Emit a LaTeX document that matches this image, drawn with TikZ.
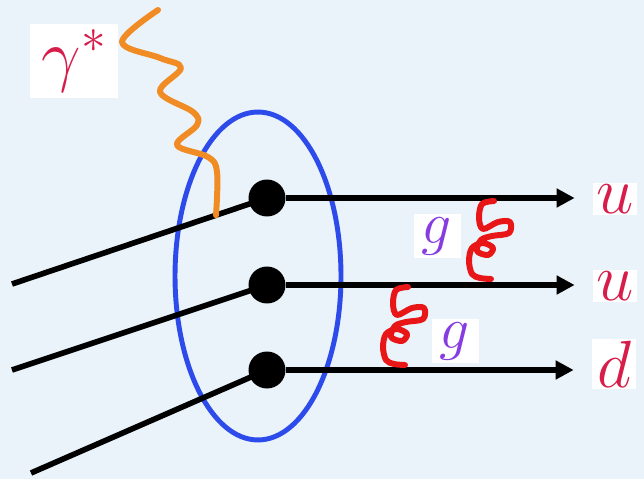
\RequirePackage{fix-cm}
\documentclass[tikz,border=0pt]{standalone}
\usepackage{xcolor}
\usepackage{amsmath}
\usepackage{tikz}
\usetikzlibrary{shapes.geometric, arrows.meta, positioning, calc}
\definecolor{mybg}{RGB}{233,243,249}
\definecolor{myblue}{RGB}{45,75,235}
\definecolor{myorange}{RGB}{240,140,35}
\definecolor{myred}{RGB}{232,22,22}
\definecolor{mycrimson}{RGB}{215,30,75}
\definecolor{mypurple}{RGB}{135,60,225}
\tikzset{
  quark/.style={line width=3.2pt, color=black},
  outquark/.style={line width=3.2pt, color=black,
    -{Triangle[length=0.36cm, width=0.36cm]}, shorten >=0.36cm},
  dot/.style={circle, fill=black, inner sep=0pt, minimum size=0.74cm},
  photon/.style={line width=3.4pt, color=myorange, line cap=round, line join=round},
  gluonline/.style={line width=3.4pt, color=myred, line cap=round, line join=round},
  % hand-drawn curly gluon, hanging down from its start point
  gluon/.pic={
    \draw[gluonline] plot[smooth, tension=0.55] coordinates {(0,0) (-12,3) (-15,17)
      (-11,28) (4,21) (16,21) (15,32) (-2,35) (-13,39) (-17,50) (-6,54) (-1,47)
      (-11,42) (-22,47) (-25,60) (-22,73) (-14,77) (-3,78)};
  },
  flavour/.style={fill=white, text=mycrimson, inner sep=1pt,
    minimum width=0.88cm, font=\fontsize{38}{40}\selectfont},
  glabel/.style={fill=white, text=mypurple, inner sep=1pt,
    minimum width=0.94cm, minimum height=0.9cm, font=\fontsize{34}{36}\selectfont}
}

\begin{document}
\begin{tikzpicture}[x=0.02cm, y=-0.02cm]
  % Paper background
  \fill[mybg] (0,0) rectangle (644,479);
  \useasboundingbox (0,0) rectangle (644,479);

  % Proton
  \node[ellipse, draw=myblue, line width=2.8pt, minimum width=3.32cm,
    minimum height=6.56cm] (proton) at (258,276) {};

  % Quarks coming in and going out
  \coordinate (in1) at (12,284);
  \coordinate (in2) at (12,370);
  \coordinate (in3) at (31,473);
  \node[flavour] (u1) at (615,199) {$u$};
  \node[flavour] (u2) at (615,286) {$u$};
  \node[flavour] (d)  at (614,364) {$d$};
  \foreach \i/\y/\lbl in {1/198/u1, 2/285/u2, 3/370/d} {
    \draw[quark] (in\i) -- (267,\y);
    \node[dot] (q\i) at (267,\y) {};
    \draw[outquark] (q\i) -- (q\i -| \lbl.west);
  }

  % Virtual photon
  \coordinate (vtx) at ($(in1)!0.8!(q1)$);
  \node[fill=white, text=mycrimson, minimum width=1.76cm, minimum height=1.38cm,
    font=\fontsize{40}{42}\selectfont] (gam) at (74,61) {$\gamma^*$};
  \draw[photon] plot[smooth, tension=0.6] coordinates {(158,10) (122,42) (160,58)
    (181,68) (160,92) (193,112) (197,125) (177,145) (208,157) (217,172) (vtx)};

  % Gluon exchange
  \coordinate (ga1) at (494,201);
  \coordinate (ga2) at (408,287);
  \pic at (ga1) {gluon};
  \pic at (ga2) {gluon};
  \node[glabel] (g1) at (437,236) {$g$};
  \node[glabel] (g2) at (455,341) {$g$};
\end{tikzpicture}
\end{document}
